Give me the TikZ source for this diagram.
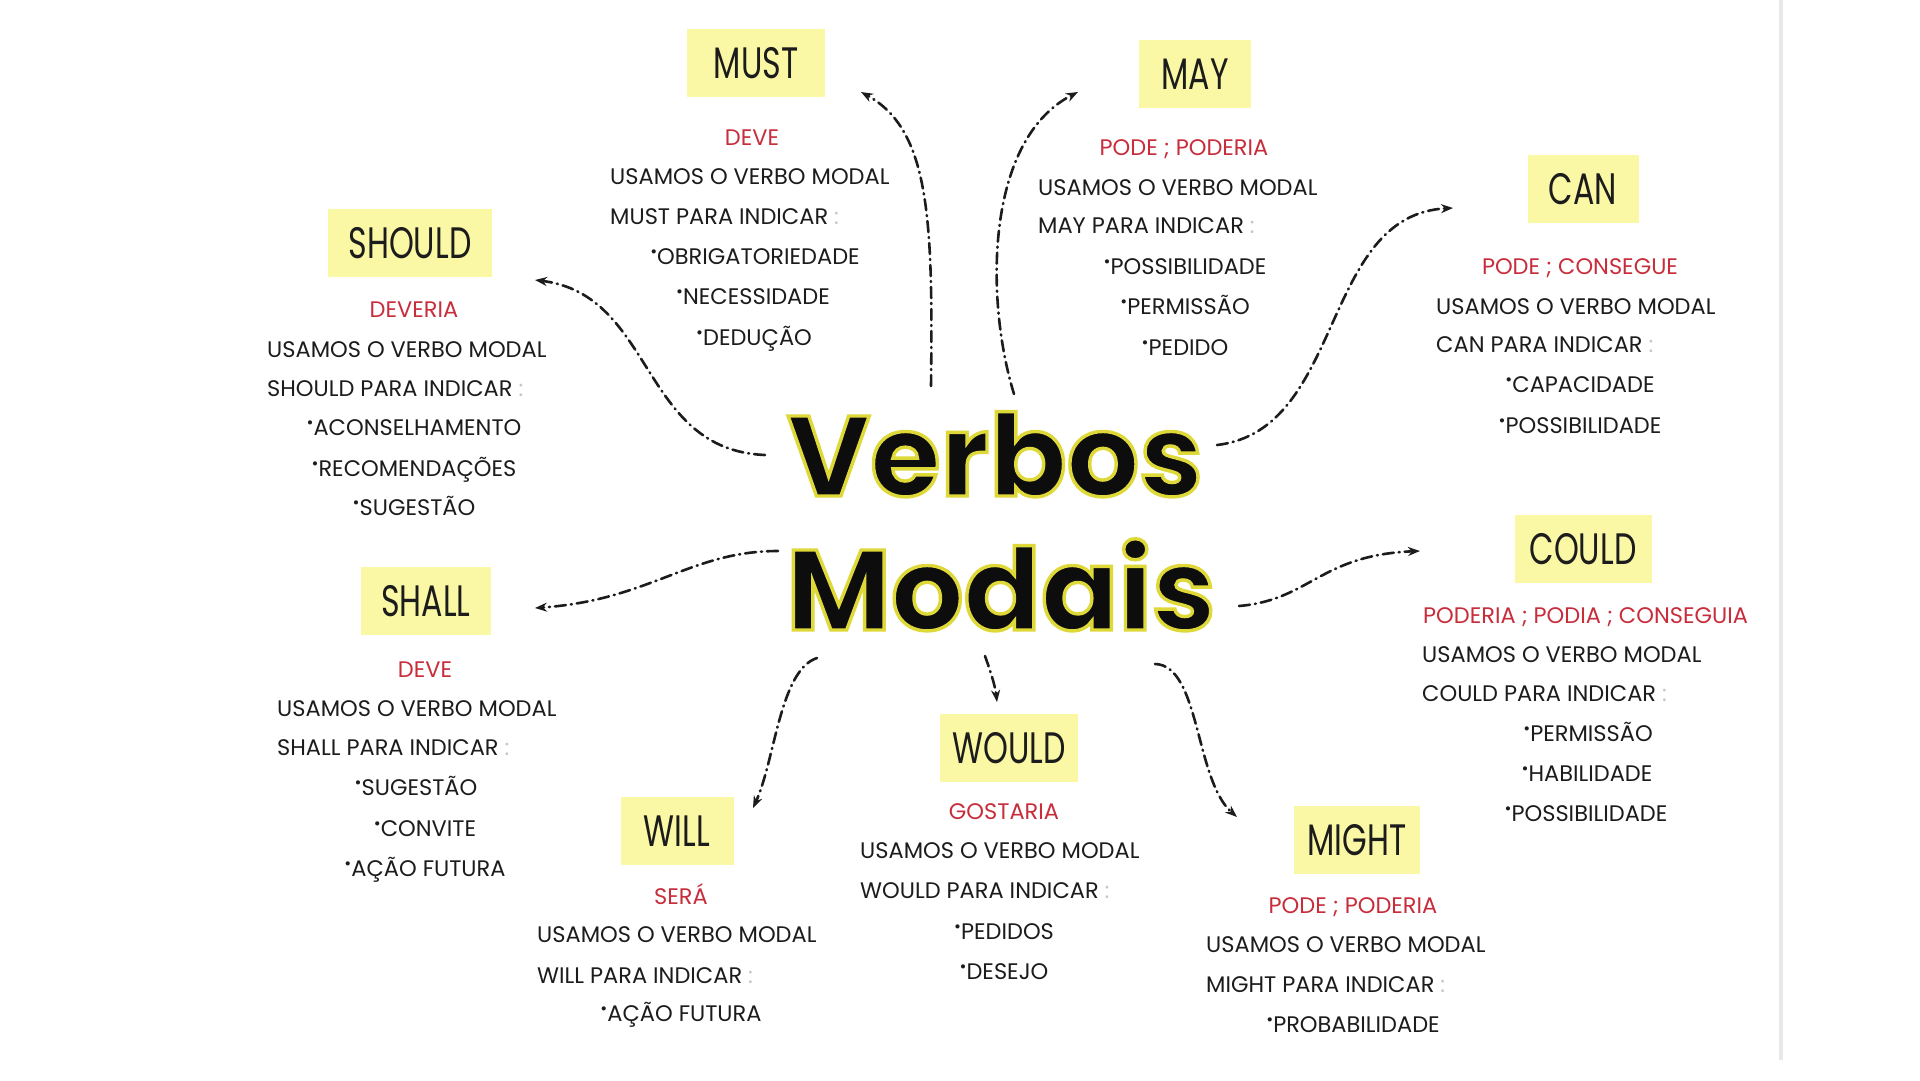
\documentclass[tikz,border=0pt]{standalone}
\usepackage{fontspec}
\usetikzlibrary{arrows.meta}
\setmainfont{Poppins}
\newfontfamily\titlefont{Poppins}[UprightFeatures={FakeBold=3}, BoldFeatures={FakeBold=3}]
\definecolor{boxyellow}{RGB}{250,247,165}
\definecolor{txtred}{RGB}{200,45,60}
\definecolor{ink}{RGB}{28,28,28}
\newcommand\boxlabel[1]{\scalebox{0.72}[1]{#1}}
\newcommand\bul{\raisebox{0.3em}{\scalebox{0.75}{\textbullet}}}
\newcommand\colo{{\color{gray!45}:}}
\newcommand\haloed[1]{\special{pdf:bc [0.05 0.05 0.05] [0.87 0.85 0.22]}#1\special{pdf:ec}}
\begin{document}
\begin{tikzpicture}[x=1pt,y=-1pt,
  lbl/.style={fill=boxyellow, minimum width=#1, minimum height=68pt, inner sep=0pt,
    text=ink, font=\fontsize{44}{48}\selectfont, text height=31pt, text depth=0pt},
  body/.style={inner sep=0pt, text height=16pt, text depth=0pt, text=ink,
    font=\fontsize{22.5}{26}\selectfont},
  redw/.style={body, text=txtred},
  usline/.style={body, anchor=west},
  bull/.style={body},
  ttl/.style={inner sep=0pt, text height=80pt, text depth=0pt,
    font=\titlefont\bfseries\fontsize{114}{120}\selectfont},
  conn/.style={draw=ink, line width=2.6pt, line cap=round,
    dash pattern=on 11pt off 5pt on 1pt off 5pt,
    -{Stealth[length=12pt,width=9pt]}}
]
\useasboundingbox (0,0) rectangle (1920,1080);
\fill[white] (0,0) rectangle (1920,1080);
\draw[gray!18, line width=4pt] (1781,0) -- (1781,1060);

% title
\node[ttl] (verbos) at (995,456) {\haloed{Verbos}};
\node[ttl] (modais) at (1001,590) {\haloed{Modais}};

% label boxes
\node[lbl=138pt] (must) at (756,63) {\boxlabel{MUST}};
\node[lbl=112pt] (may) at (1195,74) {\boxlabel{MAY}};
\node[lbl=111pt] (can) at (1583,189) {\boxlabel{CAN}};
\node[lbl=164pt] (should) at (410,243) {\boxlabel{SHOULD}};
\node[lbl=130pt] (shall) at (426,601) {\boxlabel{SHALL}};
\node[lbl=137pt] (could) at (1583,549) {\boxlabel{COULD}};
\node[lbl=138pt] (would) at (1009,748) {\boxlabel{WOULD}};
\node[lbl=113pt] (will) at (677,831) {\boxlabel{WILL}};
\node[lbl=126pt] (might) at (1357,840) {\boxlabel{MIGHT}};

% SHOULD block
\node[redw] (should-r) at (414,309) {DEVERIA};
\node[usline] (should-1) at (267,349) {USAMOS O VERBO MODAL};
\node[usline] (should-2) at (267,388) {SHOULD PARA INDICAR \colo};
\node[bull] (should-b1) at (414,427) {\bul ACONSELHAMENTO};
\node[bull] (should-b2) at (414,468) {\bul RECOMENDAÇÕES};
\node[bull] (should-b3) at (414,507) {\bul SUGESTÃO};

% MUST block
\node[redw] (must-r) at (752,137) {DEVE};
\node[usline] (must-1) at (610,176) {USAMOS O VERBO MODAL};
\node[usline] (must-2) at (610,216) {MUST PARA INDICAR \colo};
\node[bull] (must-b1) at (755,256) {\bul OBRIGATORIEDADE};
\node[bull] (must-b2) at (753,296) {\bul NECESSIDADE};
\node[bull] (must-b3) at (754,337) {\bul DEDUÇÃO};

% MAY block
\node[redw] (may-r) at (1184,147) {PODE ; PODERIA};
\node[usline] (may-1) at (1038,187) {USAMOS O VERBO MODAL};
\node[usline] (may-2) at (1038,225) {MAY PARA INDICAR \colo};
\node[bull] (may-b1) at (1185,266) {\bul POSSIBILIDADE};
\node[bull] (may-b2) at (1185,306) {\bul PERMISSÃO};
\node[bull] (may-b3) at (1185,347) {\bul PEDIDO};

% CAN block
\node[redw] (can-r) at (1580,266) {PODE ; CONSEGUE};
\node[usline] (can-1) at (1436,306) {USAMOS O VERBO MODAL};
\node[usline] (can-2) at (1436,344) {CAN PARA INDICAR \colo};
\node[bull] (can-b1) at (1580,384) {\bul CAPACIDADE};
\node[bull] (can-b2) at (1580,425) {\bul POSSIBILIDADE};

% COULD block
\node[redw, anchor=west] (could-r) at (1423,615) {PODERIA ; PODIA ; CONSEGUIA};
\node[usline] (could-1) at (1422,654) {USAMOS O VERBO MODAL};
\node[usline] (could-2) at (1422,693) {COULD PARA INDICAR \colo};
\node[bull] (could-b1) at (1588,733) {\bul PERMISSÃO};
\node[bull] (could-b2) at (1587,773) {\bul HABILIDADE};
\node[bull] (could-b3) at (1586,813) {\bul POSSIBILIDADE};

% SHALL block
\node[redw] (shall-r) at (425,669) {DEVE};
\node[usline] (shall-1) at (277,708) {USAMOS O VERBO MODAL};
\node[usline] (shall-2) at (277,747) {SHALL PARA INDICAR \colo};
\node[bull] (shall-b1) at (416,787) {\bul SUGESTÃO};
\node[bull] (shall-b2) at (425,828) {\bul CONVITE};
\node[bull] (shall-b3) at (425,868) {\bul AÇÃO FUTURA};

% WILL block
\node[redw] (will-r) at (681,896) {SERÁ};
\node[usline] (will-1) at (537,934) {USAMOS O VERBO MODAL};
\node[usline] (will-2) at (537,975) {WILL PARA INDICAR \colo};
\node[bull] (will-b1) at (681,1013) {\bul AÇÃO FUTURA};

% WOULD block
\node[redw] (would-r) at (1004,811) {GOSTARIA};
\node[usline] (would-1) at (860,850) {USAMOS O VERBO MODAL};
\node[usline] (would-2) at (860,890) {WOULD PARA INDICAR \colo};
\node[bull] (would-b1) at (1004,931) {\bul PEDIDOS};
\node[bull] (would-b2) at (1004,971) {\bul DESEJO};

% MIGHT block
\node[redw] (might-r) at (1353,905) {PODE ; PODERIA};
\node[usline] (might-1) at (1206,944) {USAMOS O VERBO MODAL};
\node[usline] (might-2) at (1206,984) {MIGHT PARA INDICAR \colo};
\node[bull] (might-b1) at (1353,1024) {\bul PROBABILIDADE};

% connector end points
\coordinate (s-must) at (931,386);   \coordinate (e-must) at (861,92);
\coordinate (s-may) at (1014,394);   \coordinate (e-may) at (1078,92);
\coordinate (s-can) at (1217,445);   \coordinate (e-can) at (1453,208);
\coordinate (s-should) at (765,455); \coordinate (e-should) at (535,280);
\coordinate (s-shall) at (778,551);  \coordinate (e-shall) at (535,608);
\coordinate (s-could) at (1239,606); \coordinate (e-could) at (1420,551);
\coordinate (s-will) at (817,658);   \coordinate (e-will) at (753,808);
\coordinate (s-would) at (985,656);  \coordinate (e-would) at (997,702);
\coordinate (s-might) at (1155,664); \coordinate (e-might) at (1237,817);

\draw[conn] (s-must) .. controls (933,220) and (930,130) .. (e-must);
\draw[conn] (s-may) .. controls (985,300) and (985,140) .. (e-may);
\draw[conn] (s-can) .. controls (1345,430) and (1320,215) .. (e-can);
\draw[conn] (s-should) .. controls (640,450) and (655,295) .. (e-should);
\draw[conn] (s-shall) .. controls (690,551) and (650,600) .. (e-shall);
\draw[conn] (s-could) .. controls (1310,600) and (1320,555) .. (e-could);
\draw[conn] (s-will) .. controls (780,670) and (775,760) .. (e-will);
\draw[conn] (s-would) .. controls (990,670) and (995,685) .. (e-would);
\draw[conn] (s-might) .. controls (1200,665) and (1195,780) .. (e-might);
\end{tikzpicture}
\end{document}
